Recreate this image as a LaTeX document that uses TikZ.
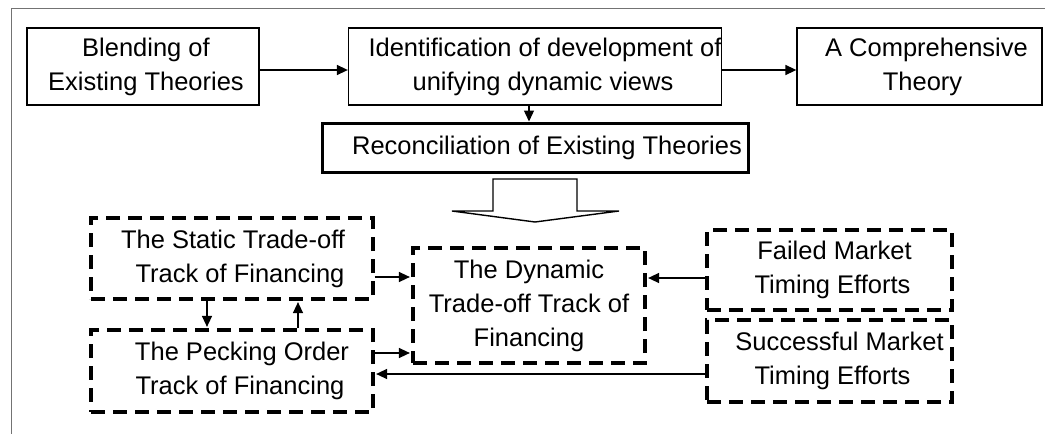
\documentclass[tikz,border=0pt]{standalone}
\usepackage{fontspec}
\setmainfont{Liberation Sans}
\usetikzlibrary{arrows.meta,calc}
\tikzset{
  boxbase/.style={rectangle, inner sep=0pt, align=center, font=\fontsize{25.5}{34}\selectfont, text=black},
  solidbox/.style={boxbase, draw=black, line width=1.3pt},
  thickbox/.style={boxbase, draw=black, line width=3pt},
  dashbox/.style={boxbase, draw=black, line width=3.2pt, dash pattern=on 14pt off 8pt},
  arr/.style={draw=black, line width=1.4pt, -{Triangle[length=11pt,width=10pt]}},
  frame/.style={draw=black!55, line width=1pt},
  blockarrow/.style={draw=black, line width=1.4pt, line join=miter}
}
\begin{document}
\begin{tikzpicture}[x=1pt,y=-1pt]
\useasboundingbox (0,0) rectangle (1045,434);
\draw[frame] (11,434) -- (11,8) -- (1045,8);

\node[solidbox, minimum width=232pt, minimum height=77pt] (blend) at (143,66.5)
  {\hspace*{6pt}Blending of\\\hspace*{6pt}Existing Theories};
\node[solidbox, minimum width=372pt, minimum height=77pt] (ident) at (535,66.5)
  {\hspace*{20pt}Identification of development of\\\hspace*{16pt}unifying dynamic views};
\node[solidbox, minimum width=245pt, minimum height=77pt] (comp) at (919.5,66.5)
  {\hspace*{14pt}A Comprehensive\\\hspace*{6pt}Theory};
\node[thickbox, minimum width=426pt, minimum height=49pt] (recon) at (535,147.5)
  {\hspace*{24pt}Reconciliation of Existing Theories};

\node[dashbox, minimum width=282pt, minimum height=81pt] (static) at (232,258.5)
  {\hspace*{2pt}The Static Trade-off\\\hspace*{16pt}Track of Financing};
\node[dashbox, minimum width=282pt, minimum height=82pt] (peck) at (232,371)
  {\hspace*{20pt}The Pecking Order\\\hspace*{16pt}Track of Financing};
\node[dashbox, minimum width=232pt, minimum height=115pt] (dyn) at (529,305.5)
  {The Dynamic\\Trade-off Track of\\Financing};
\node[dashbox, minimum width=245pt, minimum height=80pt] (failed) at (829.5,270)
  {\hspace*{10pt}Failed Market\\\hspace*{6pt}Timing Efforts};
\node[dashbox, minimum width=245pt, minimum height=82pt] (succ) at (829.5,361)
  {\hspace*{20pt}Successful Market\\\hspace*{6pt}Timing Efforts};

% connectors
\draw[arr] ($(blend.east)+(0,3.5)$) -- ($(ident.west |- blend.east)+(0,3.5)$);
\draw[arr] ($(ident.east)+(0,3.5)$) -- ($(comp.west |- ident.east)+(0,3.5)$);
\draw[arr] ($(ident.south)+(-6,0)$) -- ($(recon.north -| ident.south)+(-6,0)$);

\draw[arr] ($(static.east)+(0,18.5)$) -- ($(dyn.west |- static.east)+(-1.5,18.5)$);
\draw[arr] ($(peck.east)+(0,-18)$) -- ($(dyn.west |- peck.east)+(-1.5,-18)$);
\draw[arr] ($(failed.west)+(0,8)$) -- ($(dyn.east |- failed.west)+(1.5,8)$);
\draw[arr] ($(succ.west)+(0,13)$) -- ($(peck.east |- succ.west)+(1.5,13)$);
\draw[arr] ($(static.south)+(-25,0)$) -- ($(peck.north -| static.south)+(-25,-1.5)$);
\draw[arr] ($(peck.north)+(66,0)$) -- ($(static.south -| peck.north)+(66,1.5)$);

% hollow block arrow from reconciliation down to the tracks
\draw[blockarrow] (493,179) -- (577,179) -- (577,211) -- (619,211) -- (535,222)
  -- (452,211) -- (493,211) -- cycle;
\end{tikzpicture}
\end{document}
